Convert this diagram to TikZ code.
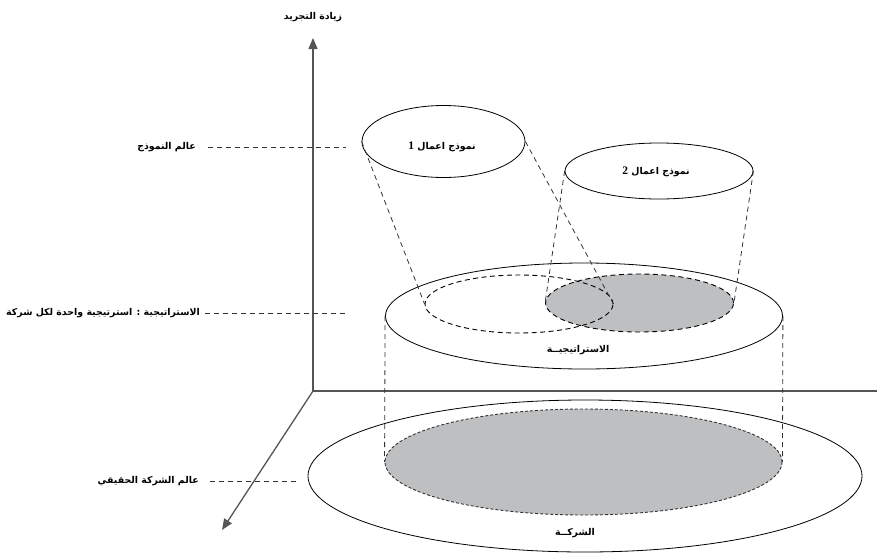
\documentclass[tikz,border=0pt]{standalone}
\usepackage{fontspec}
\usetikzlibrary{shapes.geometric,arrows.meta}
\newfontfamily\arabicfont[Script=Arabic]{DejaVu Sans}
\newfontfamily\numfont{Liberation Serif}
\TeXXeTstate=1
\definecolor{shade}{RGB}{189,191,193}
\definecolor{axiscol}{RGB}{85,85,85}
\tikzset{
  ar/.style={font=\arabicfont\bfseries\fontsize{9.4}{11}\selectfont, inner sep=1pt},
  oval/.style={ellipse, draw=black, line width=0.8pt, inner sep=0pt},
  dashoval/.style={ellipse, draw=black, line width=0.9pt, dash pattern=on 5pt off 3.5pt, inner sep=0pt},
  fineoval/.style={ellipse, draw=black!80, line width=0.9pt, dash pattern=on 3pt off 2pt, inner sep=0pt},
  guide/.style={draw=black!80, line width=0.8pt, dash pattern=on 5pt off 4pt},
  axisline/.style={draw=axiscol, line width=1.3pt},
  tip/.style={-{Triangle[width=9pt,length=11pt]}}
}
\newcommand{\numdigit}[1]{{\numfont\bfseries\fontsize{11.5}{12}\selectfont #1}}
\begin{document}
\begin{tikzpicture}[x=1pt,y=-1pt]
\useasboundingbox (0,0) rectangle (877,554);
% axes
\coordinate (O) at (313,391);
\coordinate (Ytop) at (313,38);
\coordinate (Xend) at (877,391);
\coordinate (Zend) at (222,530);
\draw[axisline] (O) -- (Xend);
\draw[axisline,tip] (O) -- (Ytop);
\draw[axisline,tip] (O) -- (Zend);
\node[ar] (tY) at (313,17) {\beginR زيادة التجريد\endR};

% company level
\node[oval, minimum width=554pt, minimum height=152pt] (C) at (585,476) {};
\node[fineoval, fill=shade, minimum width=397pt, minimum height=106pt] (G) at (583.5,462) {};
\node[ar] (tC) at (575,533) {\beginR الشركــة\endR};

% strategy level
\node[oval, fill=white, minimum width=397pt, minimum height=106pt] (S) at (584,316) {};
\node[ellipse, fill=shade, minimum width=188pt, minimum height=58pt, inner sep=0pt] (g2f) at (639.5,303) {};
\node[dashoval, minimum width=188pt, minimum height=58pt] (P1) at (519,304) {};
\node[dashoval, minimum width=188pt, minimum height=58pt] (P2) at (639.5,303) {};
\node[ar] (tS) at (578,350) {\beginR الاستراتيجيــة\endR};

% vertical projection lines
\draw[guide] (S.west) -- (G.west);
\draw[guide] (S.east) -- (G.east);

% model level
\node[oval, minimum width=163pt, minimum height=72pt] (M1) at (443.5,141.5) {};
\node[ar] (tM1) at (442,147) {\beginR نموذج اعمال \numdigit{1}\endR};
\node[oval, minimum width=188pt, minimum height=56pt] (M2) at (659,171) {};
\node[ar] (tM2) at (656,172) {\beginR نموذج اعمال \numdigit{2}\endR};
\draw[guide] (M1.west) -- (P1.west);
\draw[guide] (M1.east) -- (P1.east);
\draw[guide] (M2.west) -- (P2.west);
\draw[guide] (M2.east) -- (P2.east);

% side labels
\node[ar, anchor=east] (L1) at (197,147) {\beginR عالم النموذج\endR};
\coordinate (L1e) at (346,147);
\draw[guide] (L1.east) ++(11,0) -- (L1e);
\node[ar, anchor=east] (L2) at (201,313) {\beginR الاستراتيجية : استرتيجية واحدة لكل شركة\endR};
\coordinate (L2e) at (346,313);
\draw[guide] (L2.east) ++(4,0) -- (L2e);
\node[ar, anchor=east] (L3) at (200,481) {\beginR عالم الشركة الحقيقي\endR};
\coordinate (L3e) at (299,481);
\draw[guide] (L3.east) ++(10,0) -- (L3e);
\end{tikzpicture}
\end{document}
